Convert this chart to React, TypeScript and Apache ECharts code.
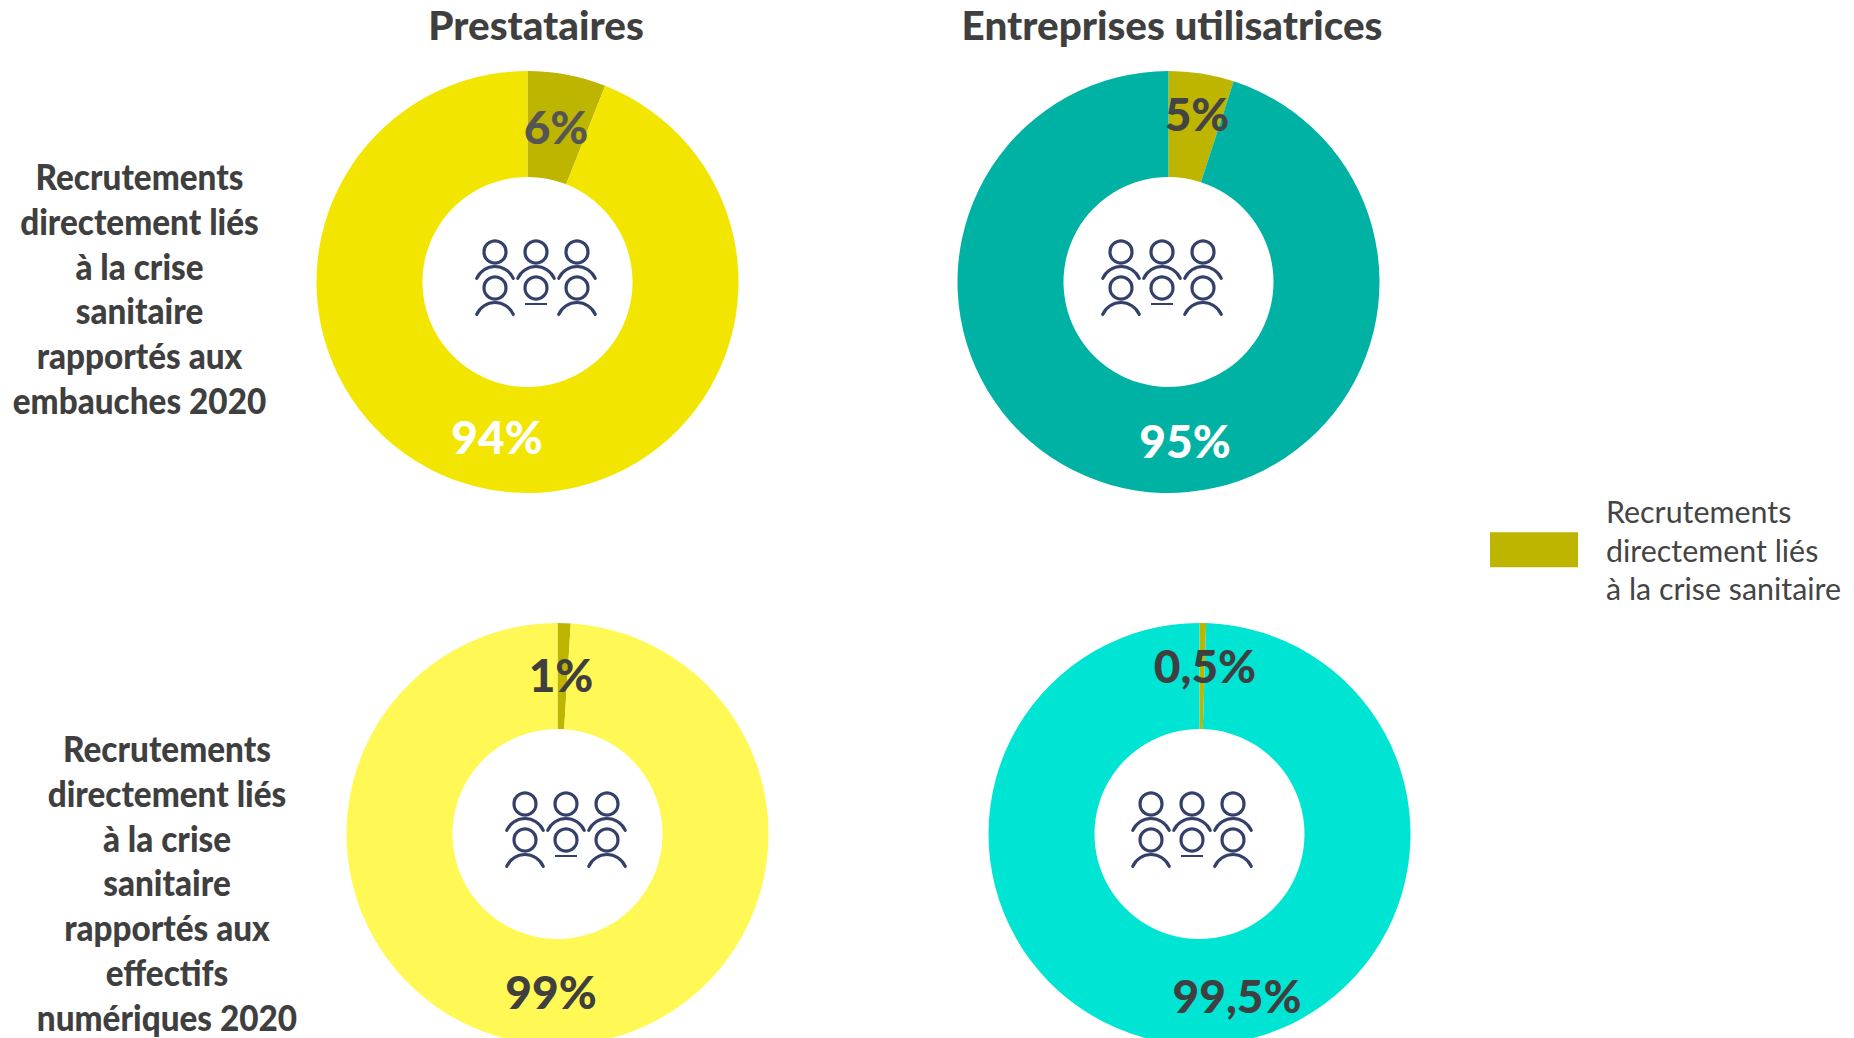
import React, { useEffect, useRef } from "react";
import * as echarts from "echarts";

const SLICE_NAME = "Recrutements\ndirectement liés\nà la crise sanitaire";
const OTHER_NAME = "Autres";
const columnTitles = ["Prestataires", "Entreprises utilisatrices"];
const rowTitleTop = "Recrutements\ndirectement liés\nà la crise\nsanitaire\nrapportés aux\nembauches 2020";
const rowTitleBottom = "Recrutements\ndirectement liés\nà la crise\nsanitaire\nrapportés aux\neffectifs\nnumériques 2020";

const prestatairesEmbauches = [6, 94];
const entreprisesEmbauches = [5, 95];
const prestatairesEffectifs = [1, 99];
const entreprisesEffectifs = [0.5, 99.5];

const FONT = "Lato, 'Liberation Sans', sans-serif";
const TEXT = "#3f3f3f";
const SLICE = "#bdb500";
const ICON = "#34406a";

const donuts = [
  { values: prestatairesEmbauches, c: [527.5, 282], color: "#f2e600", icon: [536, 252], small: [556, 126.5, "#555555"], big: [497, 436.5, "#ffffff"] },
  { values: entreprisesEmbauches, c: [1168.5, 282], color: "#00b2a3", icon: [1162, 252], small: [1197, 113.5, "#444444"], big: [1185, 440.5, "#ffffff"] },
  { values: prestatairesEffectifs, c: [557.5, 834], color: "#fff855", icon: [566, 804], small: [561, 674.5, TEXT], big: [551, 991.5, TEXT] },
  { values: entreprisesEffectifs, c: [1199.5, 834], color: "#00e5d3", icon: [1192, 804], small: [1205, 665.5, TEXT], big: [1237, 995.5, TEXT] },
] as const;

function person(cx: number, cy: number, flat: boolean) {
  const a = (66 * Math.PI) / 180;
  const st = { stroke: ICON, lineWidth: 3.2, fill: "none", lineCap: "round" };
  const head = { type: "circle", silent: true, shape: { cx, cy, r: 11 }, style: { stroke: ICON, lineWidth: 3.2, fill: "transparent" } };
  const body = flat
    ? { type: "line", silent: true, shape: { x1: cx - 11, y1: cy + 16, x2: cx + 11, y2: cy + 16 }, style: { stroke: ICON, lineWidth: 2 } }
    : { type: "arc", silent: true, shape: { cx, cy: cy + 34.5, r: 20, startAngle: -Math.PI / 2 - a, endAngle: -Math.PI / 2 + a, clockwise: true }, style: st };
  return [head, body];
}

function icon(mid: number, top: number) {
  const out: any[] = [];
  [-41, 0, 41].forEach((dx) => {
    out.push(...person(mid + dx, top, false));
    out.push(...person(mid + dx, top + 36, dx === 0));
  });
  return out;
}

function txt(x: number, y: number, text: string, size: number, lh: number, sx: number) {
  return {
    type: "text",
    silent: true,
    x,
    y,
    scaleX: sx,
    style: { text, font: `900 ${size}px ${FONT}`, fill: TEXT, align: "center", verticalAlign: "top", lineHeight: lh },
  };
}

export default function App() {
  const ref = useRef<HTMLDivElement>(null);
  useEffect(() => {
    document.body.style.margin = "0";
    const chart = echarts.init(ref.current!, undefined, { renderer: "svg" });
    chart.setOption({
      animation: false,
      backgroundColor: "#ffffff",
      legend: {
        left: 1490,
        top: 491,
        padding: 0,
        orient: "vertical",
        icon: "rect",
        itemWidth: 88,
        itemHeight: 35,
        itemGap: 0,
        selectedMode: false,
        data: [SLICE_NAME],
        textStyle: { fontFamily: FONT, fontSize: 30.4, lineHeight: 38.5, color: "#444444", padding: [0, 0, 2, 23] },
      },
      series: donuts.map((d) => ({
        type: "pie",
        silent: true,
        center: d.c,
        radius: [105, 211],
        startAngle: 90,
        clockwise: true,
        minAngle: 0,
        avoidLabelOverlap: false,
        labelLine: { show: false },
        label: {
          show: true,
          position: "inside",
          fontFamily: FONT,
          fontWeight: 900,
          fontSize: 46,
          formatter: (p: any) => `${String(p.value).replace(".", ",")}%`,
        },
        labelLayout: (p: any) => {
          const pos = p.dataIndex === 0 ? d.small : d.big;
          return { x: pos[0], y: pos[1], align: "center", verticalAlign: "middle" };
        },
        data: [
          { name: SLICE_NAME, value: d.values[0], itemStyle: { color: SLICE }, label: { color: d.small[2] } },
          { name: OTHER_NAME, value: d.values[1], itemStyle: { color: d.color }, label: { color: d.big[2] } },
        ],
      })),
      graphic: [
        txt(536, 5, columnTitles[0], 40, 40, 1.01),
        txt(1172, 5, columnTitles[1], 40, 40, 1.01),
        txt(139.5, 154, rowTitleTop, 36, 44.7, 0.925),
        txt(167, 726, rowTitleBottom, 36, 44.7, 0.925),
        ...donuts.flatMap((d) => icon(d.icon[0], d.icon[1])),
      ],
    });
    return () => chart.dispose();
  }, []);
  return <div ref={ref} style={{ position: "absolute", left: 0, top: 0, width: 1854, height: 1038, overflow: "hidden" }} />;
}
